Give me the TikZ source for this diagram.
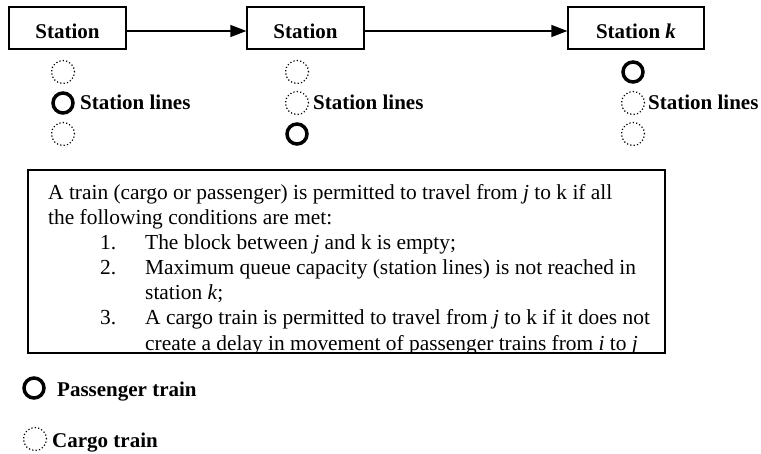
\documentclass[tikz,border=0pt]{standalone}
\usepackage{fontspec}
\setmainfont{Liberation Serif}
\usetikzlibrary{arrows.meta}
\begin{document}
\begin{tikzpicture}[x=1pt,y=-1pt,
  stationbox/.style={draw, line width=1.3pt, minimum height=42pt, inner sep=0pt,
    font=\fontsize{21}{25}\selectfont\bfseries, text height=22pt, text depth=0pt},
  conn/.style={line width=1.3pt, -{Triangle[length=16pt,width=12pt]}},
  cargo/.style={circle, draw, line width=1.2pt, dash pattern=on 1.2pt off 2.2pt,
    minimum size=23pt, inner sep=0pt},
  pass/.style={circle, draw, line width=3.5pt, minimum size=20pt, inner sep=0pt},
  lab/.style={anchor=base west, inner sep=0pt, font=\fontsize{21}{25}\selectfont\bfseries},
  body/.style={anchor=base west, inner sep=0pt, font=\fontsize{21.4}{25}\selectfont},
]
\useasboundingbox (0,0) rectangle (761,454);

% stations
\node[stationbox, minimum width=117pt] (s1) at (67.5,28) {Station};
\node[stationbox, minimum width=117pt] (s2) at (305.5,28) {Station};
\node[stationbox, minimum width=136pt] (s3) at (636,28) {Station \textit{k}};
\draw[conn] ([yshift=-3pt]s1.east) -- ([yshift=-3pt]s2.west);
\draw[conn] ([yshift=-3pt]s2.east) -- ([yshift=-3pt]s3.west);

% station lines, station 1
\node[cargo] (a1) at (63,72) {};
\node[pass]  (a2) at (63,103) {};
\node[cargo] (a3) at (63,134) {};
\node[lab] (la) at (80,110) {Station lines};
% station 2
\node[cargo] (b1) at (297,72) {};
\node[cargo] (b2) at (297,103) {};
\node[pass]  (b3) at (297,134) {};
\node[lab] (lb) at (313,110) {Station lines};
% station k
\node[pass]  (c1) at (633,72) {};
\node[cargo] (c2) at (633,103) {};
\node[cargo] (c3) at (633,134) {};
\node[lab] (lc) at (648,110) {Station lines};

% text box
\node[draw, line width=1.3pt, minimum width=637pt, minimum height=183pt, inner sep=0pt]
  (tb) at (346.5,261.5) {};
\begin{scope}
\clip (tb.south west) rectangle (tb.north east);
\node[body] (t1) at (48,200) {A train (cargo or passenger) is permitted to travel from \textit{j} to k if all};
\node[body] (t2) at (48,225) {the following conditions are met:};
\node[body] (n1) at (100,250) {1.};
\node[body] (t3) at (145,250) {The block between \textit{j} and k is empty;};
\node[body] (n2) at (100,275) {2.};
\node[body] (t4) at (145,275) {Maximum queue capacity (station lines) is not reached in};
\node[body] (t5) at (145,300) {station \textit{k};};
\node[body] (n3) at (100,325) {3.};
\node[body] (t6) at (145,325) {A cargo train is permitted to travel from \textit{j} to k if it does not};
\node[body] (t7) at (145,351) {create a delay in movement of passenger trains from \textit{i} to \textit{j}};
\end{scope}

% legend
\node[pass]  (lp) at (34,388) {};
\node[lab] (lpt) at (57,397) {Passenger train};
\node[cargo] (lcg) at (35,439) {};
\node[lab] (lct) at (52,447) {Cargo train};
\end{tikzpicture}
\end{document}
